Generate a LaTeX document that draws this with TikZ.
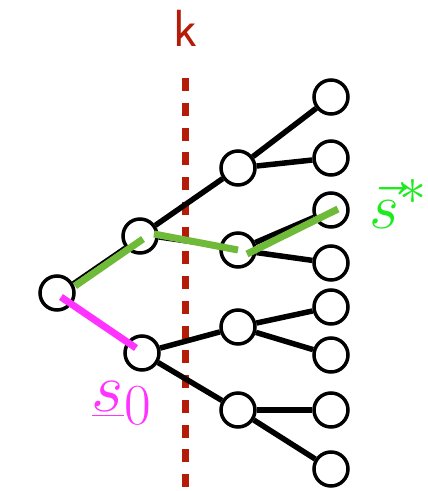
\documentclass[tikz,border=0pt]{standalone}
\usepackage{tikz}
\definecolor{cutred}{RGB}{180,28,8}
\definecolor{pathgreen}{RGB}{112,186,58}
\definecolor{labgreen}{RGB}{30,235,30}
\definecolor{labpink}{RGB}{255,50,255}

\begin{document}
\begin{tikzpicture}[x=1pt, y=-1pt,
    state/.style={circle, draw, line width=3.5pt, minimum size=34pt, inner sep=0pt, fill=white},
    edge/.style={line width=5.5pt},
    thinedge/.style={line width=2pt}]
  \useasboundingbox (0,0) rectangle (428,491);
  % Cut at depth k
  \draw[cutred, line width=7pt, dash pattern=on 13pt off 11.75pt] (185,78) -- (185,487);
  \node[cutred, font=\sffamily\Huge, scale=2.1] (k) at (185,28) {k};
  % Tree nodes
  \node[state] (r)  at (57,293) {};
  \node[state] (a1) at (140,236) {};
  \node[state] (a2) at (142,353) {};
  \node[state] (b1) at (238,168) {};
  \node[state] (b2) at (238,250) {};
  \node[state] (b3) at (238,327) {};
  \node[state] (b4) at (238,410) {};
  \node[state] (c1) at (331,97) {};
  \node[state] (c2) at (331,158) {};
  \node[state] (c3) at (331,210) {};
  \node[state] (c4) at (331,263) {};
  \node[state] (c5) at (331,307) {};
  \node[state] (c6) at (331,355) {};
  \node[state] (c7) at (331,410) {};
  \node[state] (c8) at (331,469) {};
  % Edges
  \draw[thinedge] (r) -- (a1);
  \draw[thinedge] (r) -- (a2);
  \draw[thinedge] (a1) -- (b2);
  \draw[edge] (a1) -- (b1);
  \draw[edge] (a2) -- (b3);
  \draw[edge] (a2) -- (b4);
  \foreach \p/\c in {b1/c1, b1/c2, b2/c3, b2/c4, b3/c5, b3/c6, b4/c7, b4/c8} {
    \draw[edge] (\p) -- (\c);
  }
  % Best path and start state
  \draw[pathgreen, line width=7pt] (75,286) -- (143,239);
  \draw[pathgreen, line width=7pt] (154,234) -- (238,250);
  \draw[pathgreen, line width=7pt] (247,254) -- (338,209);
  \draw[labpink, line width=7pt] (61,297) -- (136,348);
  \node[labgreen, font=\Huge, scale=2.6] (sstar) at (399,204) {$\vec{s}^{*}$};
  \node[labpink, font=\Huge, scale=2.8] (szero) at (122,403) {$\underline{s}_0$};
\end{tikzpicture}
\end{document}
